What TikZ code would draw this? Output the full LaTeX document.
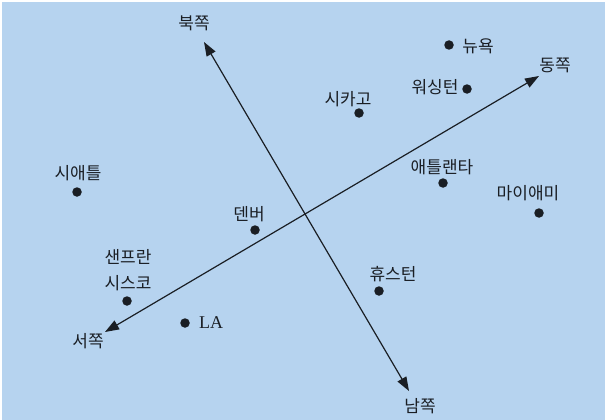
\documentclass[tikz,border=0pt]{standalone}
\usepackage{fontspec}
\setmainfont{Liberation Serif}
\newfontfamily\kr{Noto Sans CJK KR}
\usetikzlibrary{arrows.meta}
\definecolor{bgblue}{HTML}{B6D3EF}
\definecolor{ink}{HTML}{1A1E24}
\tikzset{
  axis/.style={draw=ink, line width=1.2pt, {Triangle[length=14pt,width=10pt]}-{Triangle[length=14pt,width=10pt]}},
  city/.style={circle, fill=ink, inner sep=0pt, minimum size=9.5pt},
  lbl/.style={font=\kr\fontsize{17}{19}\selectfont, text=ink, inner sep=0pt},
  latin/.style={font=\fontsize{18}{20}\selectfont, text=ink, inner sep=0pt}
}
\begin{document}
\begin{tikzpicture}[x=1pt,y=-1pt]
\useasboundingbox (0,0) rectangle (605,420);
\fill[white] (0,0) rectangle (605,420);
\fill[bgblue] (2,2) rectangle (605,420);
% axis ends
\coordinate (ntip) at (204,42);
\coordinate (stip) at (409,391);
\coordinate (etip) at (539,76);
\coordinate (wtip) at (105,332);
\draw[axis] (ntip) -- (stip);
\draw[axis] (wtip) -- (etip);
\node[lbl] (north) at (194,23) {북쪽};
\node[lbl] (south) at (420,406) {남쪽};
\node[lbl] (east) at (555,65) {동쪽};
\node[lbl] (west) at (88,341) {서쪽};
% cities
\node[city] (ny) at (449,45) {};
\node[lbl] (nyl) at (478,46) {뉴욕};
\node[city] (wa) at (467,89) {};
\node[lbl] (wal) at (435,87) {워싱턴};
\node[city] (ch) at (359,113) {};
\node[lbl] (chl) at (348,99) {시카고};
\node[city] (at) at (443,183) {};
\node[lbl] (atl) at (442,167) {애틀랜타};
\node[city] (mi) at (539,213) {};
\node[lbl] (mil) at (528,193) {마이애미};
\node[city] (ho) at (379,291) {};
\node[lbl] (hol) at (393,274) {휴스턴};
\node[city] (de) at (255,230) {};
\node[lbl] (del) at (249,214) {덴버};
\node[city] (se) at (77,192) {};
\node[lbl] (sel) at (78,173) {시애틀};
\node[city] (sf) at (127,301) {};
\node[lbl] (sfl1) at (128,257) {샌프란};
\node[lbl] (sfl2) at (128,283) {시스코};
\node[city] (la) at (185,323) {};
\node[latin] (lal) at (211,323) {LA};
\end{tikzpicture}
\end{document}
